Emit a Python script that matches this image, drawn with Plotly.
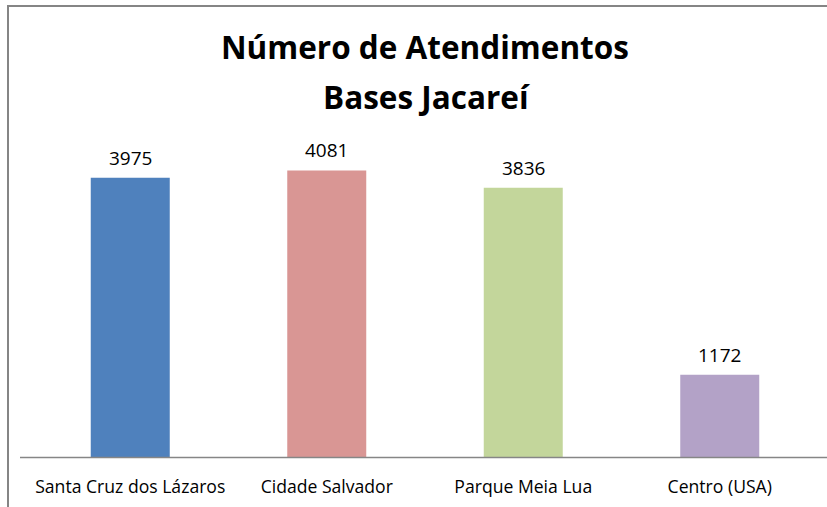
import plotly.graph_objects as go

categories = ["Santa Cruz dos Lázaros", "Cidade Salvador", "Parque Meia Lua", "Centro (USA)"]
values = [3975, 4081, 3836, 1172]
colors = ["#4F81BD", "#D99694", "#C3D69B", "#B3A2C7"]
title_lines = ["Número de Atendimentos", "Bases Jacareí"]

FONT = "Open Sans"
W, H = 827, 507
L, R, T, B = 32, 9, 141, 50
PW, PH = W - L - R, H - T - B


def px_x(px):
    return (px - L) / PW


def px_y(py):
    return (H - B - py) / PH


fig = go.Figure(go.Bar(
    x=categories, y=values,
    marker=dict(color=colors, line=dict(width=0)),
    width=0.402,
    hoverinfo="x+y",
))

# value labels above bars
for c, v in zip(categories, values):
    fig.add_annotation(x=c, y=v, xref="x", yref="y", text=str(v), showarrow=False,
                       yanchor="middle", yshift=20,
                       font=dict(family=FONT, size=19, color="#000000"))

# title lines
fig.add_annotation(x=px_x(425), y=px_y(47), xref="paper", yref="paper", text="<b>%s</b>" % title_lines[0],
                   showarrow=False, xanchor="center", yanchor="middle",
                   font=dict(family=FONT, size=31.5, color="#000000"))
fig.add_annotation(x=px_x(426), y=px_y(97), xref="paper", yref="paper", text="<b>%s</b>" % title_lines[1],
                   showarrow=False, xanchor="center", yanchor="middle",
                   font=dict(family=FONT, size=31.5, color="#000000"))

border = dict(color="#858585", width=2)
fig.update_layout(
    width=W, height=H,
    paper_bgcolor="white", plot_bgcolor="white",
    margin=dict(l=L, r=R, t=T, b=B),
    showlegend=False,
    xaxis=dict(
        showline=False, ticks="", showgrid=False, zeroline=False,
        tickfont=dict(family=FONT, size=17.6, color="#000000"),
        ticklabelstandoff=17,
    ),
    yaxis=dict(range=[0, 4500], visible=False, showgrid=False, zeroline=False),
    shapes=[
        # axis baseline
        dict(type="line", xref="paper", yref="paper", x0=px_x(20), x1=px_x(830), y0=px_y(457.5), y1=px_y(457.5),
             line=dict(color="#868686", width=1.5)),
        # chart border (top and left)
        dict(type="line", xref="paper", yref="paper", x0=px_x(7), x1=px_x(830), y0=px_y(6), y1=px_y(6), line=border),
        dict(type="line", xref="paper", yref="paper", x0=px_x(8), x1=px_x(8), y0=px_y(5), y1=px_y(510), line=border),
    ],
)

fig.write_html("out.html", config={"displayModeBar": False},
               post_script="document.body.style.margin='0';")
